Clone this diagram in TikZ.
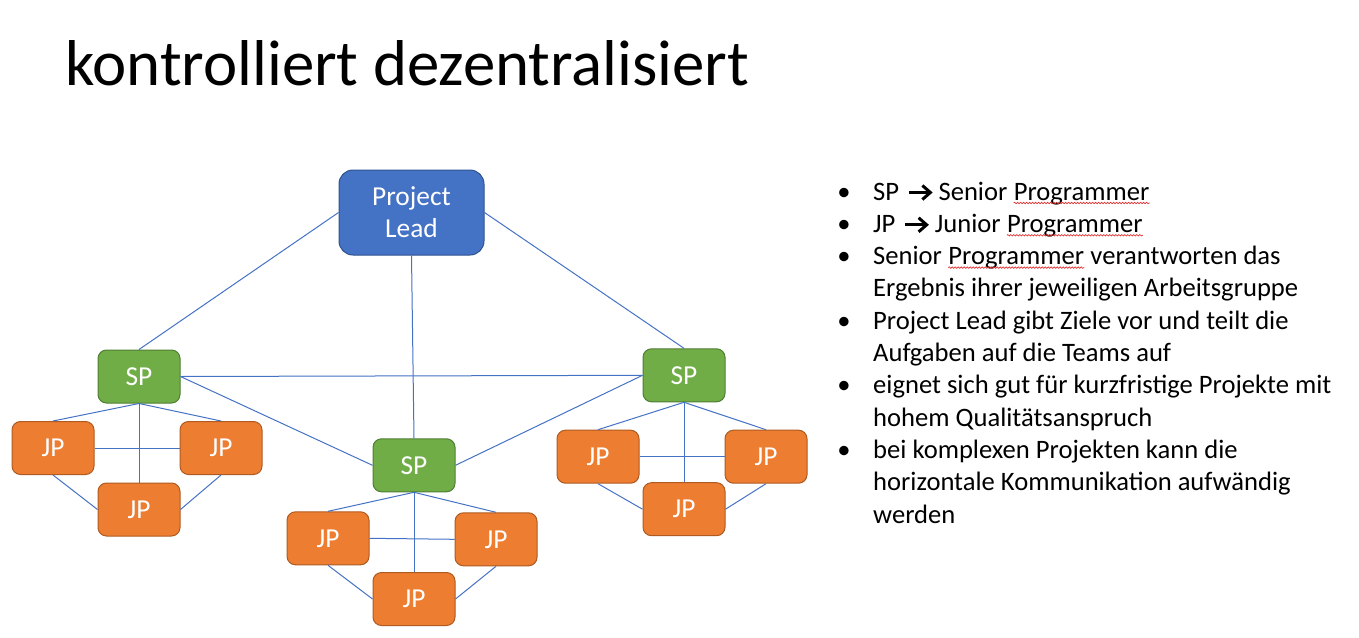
\documentclass[tikz,border=0pt]{standalone}
\usepackage{fontspec}
\setmainfont{Carlito}
\usetikzlibrary{decorations.pathmorphing}
\definecolor{leadblue}{HTML}{4472C4}
\definecolor{leadedge}{HTML}{2F528F}
\definecolor{spgreen}{HTML}{70AD47}
\definecolor{spedge}{HTML}{507E32}
\definecolor{jporange}{HTML}{ED7D31}
\definecolor{jpedge}{HTML}{AE5A21}
\definecolor{linkblue}{HTML}{4472C4}
\definecolor{spellred}{HTML}{E03030}

\begin{document}
\begin{tikzpicture}[x=1pt,y=-1pt,
  box/.style={rounded corners=8.5pt, minimum width=82pt, minimum height=53pt,
    line width=1pt, text=white, inner sep=0pt,
    font=\fontsize{27.4}{32}\selectfont},
  leadbox/.style={box, fill=leadblue, draw=leadedge, minimum width=145pt,
    minimum height=85pt, rounded corners=14pt, align=center},
  spbox/.style={box, fill=spgreen, draw=spedge},
  jpbox/.style={box, fill=jporange, draw=jpedge},
  link/.style={draw=linkblue, line width=1pt},
  item/.style={anchor=base west, inner sep=0pt, font=\fontsize{26.6}{32}\selectfont},
  dot/.style={anchor=base, inner sep=0pt, font=\fontsize{26.6}{32}\selectfont},
  pointer/.style={line width=3pt, miter limit=10},
  spell/.style={draw=spellred, line width=0.7pt, decorate,
    decoration={snake, amplitude=0.7pt, segment length=3pt}}
]
\useasboundingbox (0,0) rectangle (1359,637);

% heading
\node[anchor=base west, inner sep=0pt, font=\fontsize{64.8}{76}\selectfont]
  (title) at (65,85) {kontrolliert dezentralisiert};

% hierarchy boxes
\node[leadbox] (pl) at (411.5,212.5) {Project\\Lead};

\node[spbox] (spL) at (139,376.5) {SP};
\node[spbox] (spM) at (414,465.3) {SP};
\node[spbox] (spR) at (684,375.3) {SP};

\node[jpbox] (jL1) at (53,448) {JP};
\node[jpbox] (jL2) at (221,448) {JP};
\node[jpbox] (jL3) at (139,509.5) {JP};

\node[jpbox] (jM1) at (328,538.3) {JP};
\node[jpbox] (jM2) at (496,539.3) {JP};
\node[jpbox] (jM3) at (414,599) {JP};

\node[jpbox] (jR1) at (598,456.7) {JP};
\node[jpbox] (jR2) at (766,456.7) {JP};
\node[jpbox] (jR3) at (684,509.2) {JP};

% lead to senior programmers
\draw[link] (pl.west) -- (spL.north);
\draw[link] (pl.east) -- (spR.north);
\draw[link] (pl.south) -- (spM.north);

% senior programmers among themselves
\draw[link] (spL.east) -- (spR.west);
\draw[link] (spL.east) -- (spM.west);
\draw[link] (spR.west) -- (spM.east);

% teams
\foreach \s/\a/\b/\c in {spL/jL1/jL2/jL3, spM/jM1/jM2/jM3, spR/jR1/jR2/jR3}{
  \draw[link] (\s.south) -- (\a.north);
  \draw[link] (\s.south) -- (\b.north);
  \draw[link] (\s.south) -- (\c.north);
  \draw[link] (\a.east) -- (\b.west);
  \draw[link] (\a.south) -- (\c.west);
  \draw[link] (\b.south) -- (\c.east);
}

% bullet list
\foreach \y in {200,232.3,264.6,329.2,393.8,458.4}
  \node[dot] at (844,\y) {•};

% first two entries: abbreviation, arrow, full name
\node[item] (l1a) at (873,200) {SP};
\coordinate (a1s) at ([shift={(9.5,-7.5)}]l1a.base east);
\coordinate (a1e) at ([shift={(30,-7.5)}]l1a.base east);
\draw[pointer] (a1s) -- (a1e);
\draw[pointer] ([shift={(-7,-7)}]a1e) -- ([xshift=1pt]a1e) -- ([shift={(-7,7)}]a1e);
\node[item] (l1b) at ([xshift=39]l1a.base east) {Senior\ \null};
\node[item] (l1c) at (l1b.base east) {Programmer};

\node[item] (l2a) at (873,232.3) {JP};
\coordinate (a2s) at ([shift={(9.5,-7.5)}]l2a.base east);
\coordinate (a2e) at ([shift={(30,-7.5)}]l2a.base east);
\draw[pointer] (a2s) -- (a2e);
\draw[pointer] ([shift={(-7,-7)}]a2e) -- ([xshift=1pt]a2e) -- ([shift={(-7,7)}]a2e);
\node[item] (l2b) at ([xshift=39]l2a.base east) {Junior\ \null};
\node[item] (l2c) at (l2b.base east) {Programmer};

\node[item] (l3a) at (873,264.6) {Senior\ \null};
\node[item] (l3b) at (l3a.base east) {Programmer};
\node[item] (l3c) at (l3b.base east) {\ verantworten das};
\node[item] (l4) at (873,296.9) {Ergebnis ihrer jeweiligen Arbeitsgruppe};
\node[item] (l5) at (873,329.2) {Project Lead gibt Ziele vor und teilt die};
\node[item] (l6) at (873,361.5) {Aufgaben auf die Teams auf};
\node[item] (l7) at (873,393.8) {eignet sich gut für kurzfristige Projekte mit};
\node[item] (l8) at (873,426.1) {hohem Qualitätsanspruch};
\node[item] (l9) at (873,458.4) {bei komplexen Projekten kann die};
\node[item] (l10) at (873,490.7) {horizontale Kommunikation aufwändig};
\node[item] (l11) at (873,523) {werden};

% spelling marks
\foreach \w in {l1c,l2c,l3b}
  \draw[spell] ([yshift=-3pt]\w.base west) -- ([yshift=-3pt]\w.base east);
\end{tikzpicture}
\end{document}
